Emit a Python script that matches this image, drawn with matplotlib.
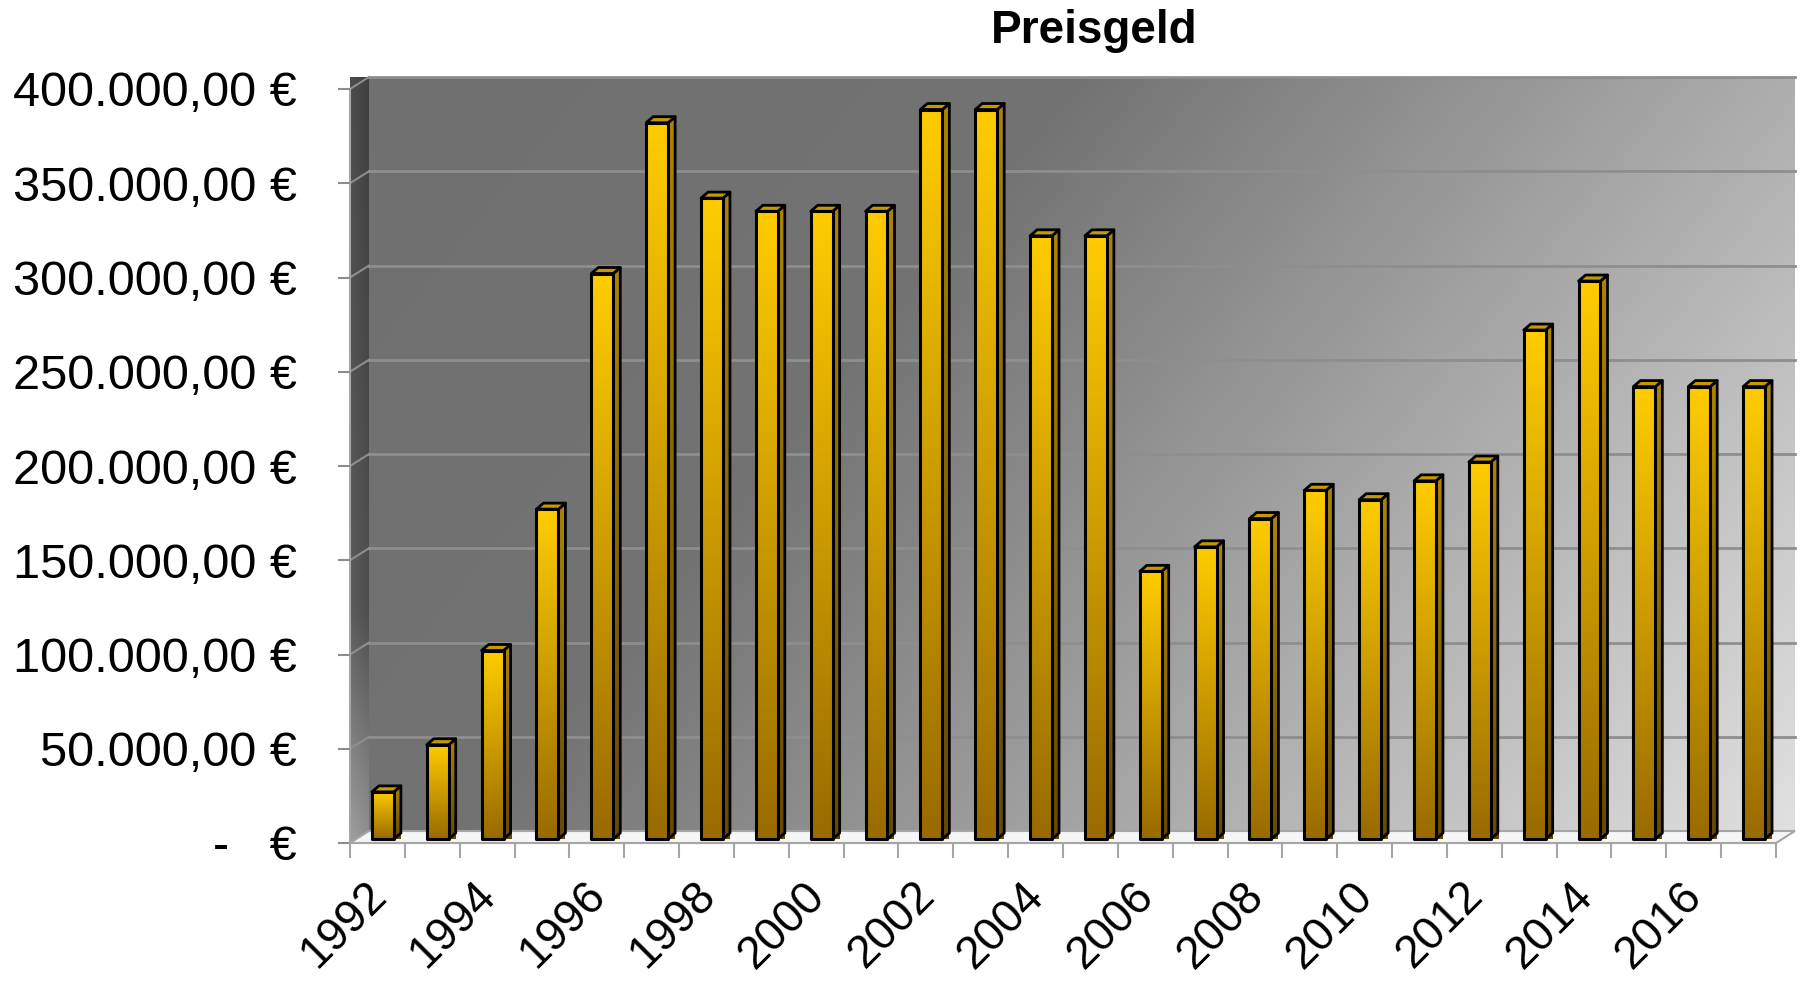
import matplotlib
matplotlib.use("Agg")
import matplotlib.pyplot as plt
import numpy as np
from matplotlib.patches import Polygon, Rectangle
from matplotlib.transforms import ScaledTranslation

plt.rcParams['font.family'] = ['Liberation Sans', 'DejaVu Sans']

# Preisgeld per year (EUR)
years = list(range(1992, 2018))
prize = [25000, 50000, 100000, 175000, 300000, 380000, 340000, 333000, 333000, 333000,
         387000, 387000, 320000, 320000, 142000, 155000, 170000, 185000, 180000, 190000,
         200000, 270000, 296000, 240000, 240000, 240000]
y_ticks = [0, 50000, 100000, 150000, 200000, 250000, 300000, 350000, 400000]
y_labels = ['-   €', '50.000,00 €', '100.000,00 €', '150.000,00 €', '200.000,00 €',
            '250.000,00 €', '300.000,00 €', '350.000,00 €', '400.000,00 €']
title = 'Preisgeld'

W, H = 1800, 982
fig = plt.figure(figsize=(W / 100, H / 100), dpi=100)
fig.patch.set_facecolor('white')

ax_box = [350 / W, 139 / H, 1426 / W, 754 / H]
ax = fig.add_axes(ax_box)
ax.set_autoscale_on(False)
ymax = 400000
n = len(years)
ax.set_xlim(-0.5, n - 0.5)
ax.set_ylim(0, ymax)
ax.patch.set_visible(False)

# pixel -> data conversions for the fake depth
px_x = (ax_box[2] * W) / n
px_y = (ax_box[3] * H) / ymax
DX, DY = 19 / px_x, 12 / px_y          # wall depth
BDX, BDY = 7 / px_x, 6 / px_y          # bar depth
B0 = 4 / px_y                          # bar base lift

x_left, x_right = -0.5, n - 0.5

# back wall with diagonal gradient
gu, gv = np.meshgrid(np.linspace(0, 1, 300), np.linspace(1, 0, 200))
t = 0.7 * gu + 0.3 * (1 - gv)
g = np.interp(t, [0, 0.35, 1.0], [0.44, 0.45, 0.88])
ax.imshow(np.dstack([g, g, g]), extent=(x_left + DX, x_right + DX, DY, ymax + DY),
          aspect='auto', interpolation='bilinear', zorder=0, clip_on=False)

# left side wall
side = Polygon([(x_left, 0), (x_left + DX, DY), (x_left + DX, ymax + DY), (x_left, ymax)],
               closed=True, transform=ax.transData)
sv = np.interp(np.linspace(0, 1, 200), [0, 0.7, 1], [0.30, 0.36, 0.62])[:, None] * np.ones((1, 10))
sv = sv - np.linspace(0, 0.05, 10)[None, :]
im = ax.imshow(np.dstack([sv, sv, sv]), extent=(x_left, x_left + DX, 0, ymax + DY),
               aspect='auto', interpolation='bilinear', zorder=0.5, clip_on=False)
im.set_clip_path(side)

# floor
ax.add_patch(Polygon([(x_left, 0), (x_right, 0), (x_right + DX, DY), (x_left + DX, DY)],
                     closed=True, facecolor='#f6f6f6', edgecolor='#a6a6a6', lw=1.5,
                     zorder=0.8, clip_on=False))

# gridlines on back and side wall
for v in y_ticks[1:]:
    ax.plot([x_left + DX, x_right + DX], [v + DY, v + DY], color='#8e8e8e', lw=2,
            zorder=0.6, clip_on=False)
    ax.plot([x_left, x_left + DX], [v, v + DY], color='#8e8e8e', lw=1.5,
            zorder=0.9, clip_on=False)

# bar colour gradients
ramp = np.linspace(0, 1, 100)[:, None, None]
front_img = np.array([1.0, 0.80, 0.0]) * (1 - ramp) + np.array([0.60, 0.42, 0.0]) * ramp
front_img = front_img * np.ones((1, 4, 1))
side_img = np.array([0.68, 0.52, 0.0]) * (1 - ramp) + np.array([0.40, 0.29, 0.0]) * ramp
side_img = side_img * np.ones((1, 4, 1))

bw = 0.40
for i, v in enumerate(prize):
    x0 = i - 0.1
    y0, y1 = B0, B0 + v
    # side face
    sp = Polygon([(x0 + bw, y0), (x0 + bw + BDX, y0 + BDY), (x0 + bw + BDX, y1 + BDY),
                  (x0 + bw, y1)], closed=True, transform=ax.transData)
    si = ax.imshow(side_img, extent=(x0 + bw, x0 + bw + BDX, y0, y1 + BDY), aspect='auto',
                   interpolation='bilinear', zorder=2, clip_on=False)
    si.set_clip_path(sp)
    ax.add_patch(Polygon(sp.get_xy(), closed=True, fill=False, edgecolor='black', lw=2.0,
                         zorder=2.1, clip_on=False, joinstyle='round'))
    # top face
    ax.add_patch(Polygon([(x0, y1), (x0 + bw, y1), (x0 + bw + BDX, y1 + BDY), (x0 + BDX, y1 + BDY)],
                         closed=True, facecolor='#c49a00', edgecolor='black', lw=2.0,
                         zorder=2.2, clip_on=False, joinstyle='round'))
    # front face
    ax.imshow(front_img, extent=(x0, x0 + bw, y0, y1), aspect='auto',
              interpolation='bilinear', zorder=3, clip_on=False)
    ax.add_patch(Rectangle((x0, y0), bw, v, fill=False, edgecolor='black', lw=2.2,
                           zorder=3.1, clip_on=False, joinstyle='round'))

# axes styling
for s in ['top', 'right']:
    ax.spines[s].set_visible(False)
ax.spines['left'].set_color('#a6a6a6')
ax.spines['left'].set_linewidth(1.5)
ax.spines['bottom'].set_color('#a6a6a6')
ax.spines['bottom'].set_linewidth(1.5)
ax.spines['left'].set_zorder(1)

ax.set_yticks(y_ticks)
ax.set_yticklabels(y_labels, fontsize=35)
ax.tick_params(axis='y', length=9, width=1.5, color='#8c8c8c', pad=29)

ax.set_xticks(np.arange(-0.5, n, 1.0))
ax.set_xticklabels([])
ax.tick_params(axis='x', length=11, width=1.5, color='#a6a6a6')

lab_tr = ax.get_xaxis_transform() + ScaledTranslation(0.02, -0.46, fig.dpi_scale_trans)
for i, yr in enumerate(years):
    if i % 2 == 0:
        ax.text(i, 0, str(yr), transform=lab_tr, rotation=45, rotation_mode='anchor',
                ha='right', va='center', fontsize=33)

fig.text(1094 / W, 1 - 31 / H, title, ha='center', va='center', fontsize=33,
         fontweight='bold')

ax.set_xlim(-0.5, n - 0.5)
ax.set_ylim(0, ymax)
fig.savefig('out.png', dpi=100)
